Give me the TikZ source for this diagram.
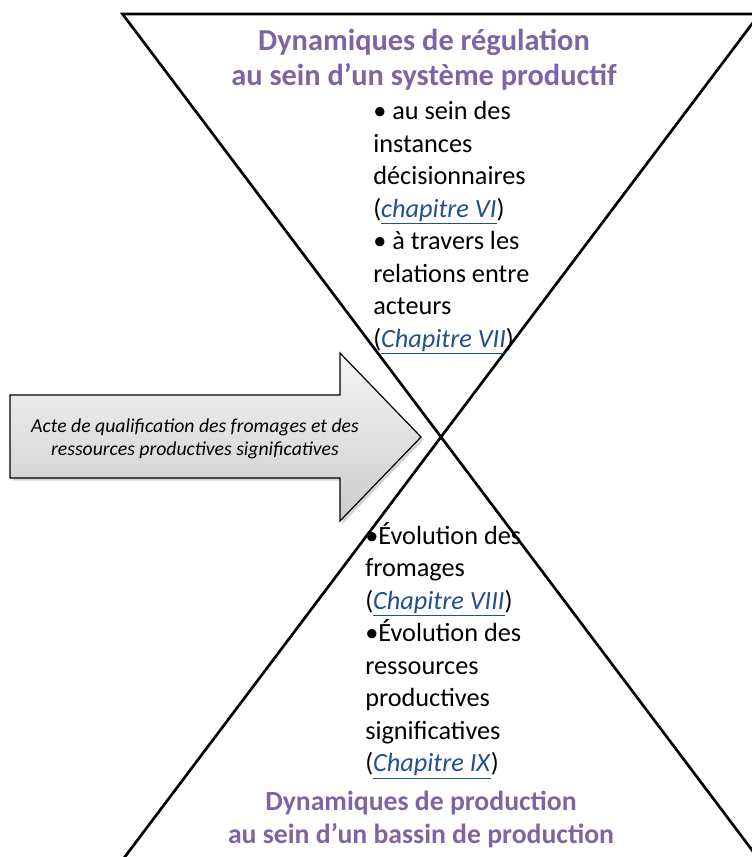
\documentclass[tikz,border=0pt]{standalone}
\usepackage{fontspec}
\setmainfont{Carlito}
\usetikzlibrary{shadows}
\definecolor{titreviolet}{RGB}{128,100,162}
\definecolor{lienbleu}{RGB}{36,78,140}
\newcommand{\chap}[1]{\textcolor{lienbleu}{\underline{\textit{#1}}}}
\begin{document}
\begin{tikzpicture}[x=0.75pt,y=-0.75pt,
    titre/.style={text=titreviolet,font=\fontsize{22.8}{26}\selectfont\bfseries,align=center,inner sep=0pt},
    corps/.style={font=\fontsize{19.7}{24.4}\selectfont,align=left,inner sep=0pt},
    croix/.style={line width=2pt,line join=miter},
    fleche/.style={draw=black,line width=0.9pt,top color=gray!8,bottom color=gray!40,drop shadow={shadow xshift=2pt,shadow yshift=-2pt,opacity=0.35}}]
\useasboundingbox (0,0) rectangle (752,857);
\coordinate (centre) at (441,437);
\begin{scope}
\clip (0,0) rectangle (752,857);
\draw[croix] (centre) -- (122.5,14) -- (759.5,14) -- cycle;
\draw[croix] (centre) -- (122.5,860) -- (759.5,860) -- cycle;
\end{scope}
\draw[fleche] (10,395) -- (340,395) -- (340,353) -- (421,437) -- (340,521) -- (340,478) -- (10,478) -- cycle;
\node[font=\fontsize{14.8}{17.5}\selectfont\itshape,align=center,inner sep=0pt] (acte) at (195,439) {Acte de qualification des fromages et des\\ressources productives significatives};
\node[titre,anchor=north] (regulation) at (424,29) {Dynamiques de régulation\\au sein d’un système productif};
\node[corps,anchor=north west] (instances) at (373,101) {• au sein des\\instances\\décisionnaires\\(\chap{chapitre VI})\\• à travers les\\relations entre\\acteurs\\(\chap{Chapitre VII})};
\node[corps,anchor=north west] (evolution) at (365,522) {•Évolution des\\fromages\\(\chap{Chapitre VIII})\\•Évolution des\\ressources\\productives\\significatives\\(\chap{Chapitre IX})};
\node[titre,font=\fontsize{20.8}{24.5}\selectfont\bfseries,anchor=north] (production) at (421,791) {Dynamiques de production\\au sein d’un bassin de production};
\end{tikzpicture}
\end{document}
